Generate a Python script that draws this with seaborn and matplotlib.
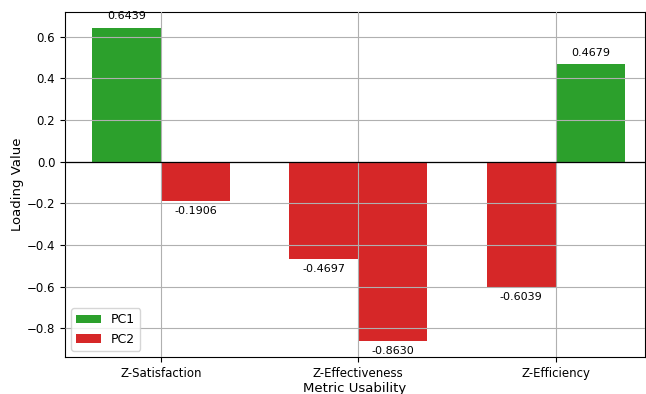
import matplotlib
matplotlib.use("Agg")
import matplotlib.pyplot as plt
from matplotlib.patches import Patch
import seaborn as sns
import pandas as pd

metrics = ["Z-Satisfaction", "Z-Effectiveness", "Z-Efficiency"]
pc1 = [0.6439, -0.4697, -0.6039]
pc2 = [-0.1906, -0.8630, 0.4679]
components = ["PC1", "PC2"]

pos_color = "#2ca02c"
neg_color = "#d62728"

df = pd.DataFrame({
    "metric": metrics * 2,
    "component": ["PC1"] * len(metrics) + ["PC2"] * len(metrics),
    "loading": pc1 + pc2,
})

fig = plt.figure(figsize=(6.46, 3.94), dpi=100)
ax = fig.add_axes([0.1006, 0.094, 0.8974, 0.8755])

sns.barplot(data=df, x="metric", y="loading", hue="component",
            hue_order=components, order=metrics, width=0.7,
            palette=[pos_color, neg_color], ax=ax, legend=False,
            saturation=1, errorbar=None)

# colour every bar by the sign of its loading and label it
for patch in ax.patches:
    h = patch.get_height()
    patch.set_facecolor(pos_color if h >= 0 else neg_color)
    patch.set_edgecolor("none")
    xc = patch.get_x() + patch.get_width() / 2
    if h >= 0:
        ax.text(xc, h + 0.03, f"{h:.4f}", ha="center", va="bottom", fontsize=8)
    else:
        ax.text(xc, h - 0.02, f"{h:.4f}", ha="center", va="top", fontsize=8)

ax.set_axisbelow(False)
ax.grid(True, color="#b0b0b0", linewidth=0.8)
ax.axhline(0, color="black", linewidth=0.9, zorder=5)
ax.set_xlim(-0.485, 2.45)
ax.set_ylim(-0.938, 0.719)
ax.set_xlabel("Metric Usability", fontsize=9.5, labelpad=2)
ax.set_ylabel("Loading Value", fontsize=9.5, labelpad=2)
ax.tick_params(labelsize=8.5)

handles = [Patch(facecolor=pos_color, label="PC1"),
           Patch(facecolor=neg_color, label="PC2")]
ax.legend(handles=handles, loc="lower left", fontsize=9)

fig.savefig("out.png", dpi=100)
